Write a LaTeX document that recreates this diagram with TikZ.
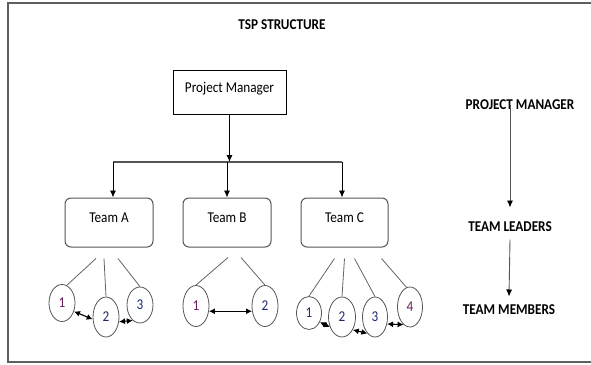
\documentclass[tikz,border=0pt]{standalone}
\usepackage{fontspec}
\setmainfont{Carlito}[FakeStretch=0.88]
\usetikzlibrary{shapes.geometric,arrows.meta,calc}
\definecolor{frameGray}{RGB}{95,95,95}
\definecolor{boxGray}{RGB}{85,85,85}
\definecolor{spokeGray}{RGB}{100,100,100}
\definecolor{numPurple}{RGB}{105,30,95}
\definecolor{numNavy}{RGB}{30,40,110}
\tikzset{
  heading/.style={font=\bfseries\fontsize{15}{18}\selectfont},
  pmbox/.style={draw=black, line width=0.9pt, minimum width=113pt, inner xsep=4pt, inner ysep=5pt,
    text height=17pt, text depth=17pt, font=\fontsize{15}{18}\selectfont},
  team/.style={draw=boxGray, line width=1pt, rounded corners=6pt, minimum width=88pt, inner ysep=5pt,
    text height=19pt, text depth=20pt, font=\fontsize{15}{18}\selectfont},
  mem/.style={ellipse, draw=boxGray, line width=0.8pt, inner sep=0pt, minimum width=26pt,
    font=\fontsize{15}{18}\selectfont},
  arr/.style={-{Latex[length=7pt,width=6pt]}, line width=0.9pt},
  level/.style={draw=boxGray, -{Latex[length=7pt,width=6pt,color=black]}, line width=0.9pt},
  pair/.style={{Latex[length=6pt,width=6pt]}-{Latex[length=6pt,width=6pt]}, line width=1.1pt},
  spoke/.style={draw=spokeGray, line width=0.8pt}
}
\begin{document}
\begin{tikzpicture}[x=1pt,y=1pt,yscale=-1,xscale=1]
\useasboundingbox (0,0) rectangle (591,364);

%Frame (right side runs off the picture)
\draw [frameGray, line width=1.6pt] (591,3) -- (8,3) -- (8,362) -- (591,362);

%Title
\node[heading] (title) at (282,25) {TSP STRUCTURE};

%Manager and teams
\node[pmbox] (pm) at (229.5,92) {Project Manager};
\node[team] (ta) at (109,222.5) {Team A};
\node[team] (tb) at (227,222.5) {Team B};
\node[team, minimum width=87pt] (tc) at (344.5,222.5) {Team C};

\coordinate (fork) at (228,162);
\draw[arr] (pm.south) -- (pm.south |- fork);
\draw[boxGray, line width=1.2pt] ($(ta.north |- fork)+(4,0)$) -- ($(tc.north |- fork)+(-2.5,0)$);
\draw[arr] ($(ta.north |- fork)+(4,0)$) -- ($(ta.north)+(4,0)$);
\draw[arr] (tb.north |- fork) -- (tb.north);
\draw[arr] ($(tc.north |- fork)+(-2.5,0)$) -- ($(tc.north)+(-2.5,0)$);

%Team A members
\node[mem, minimum height=37pt, text=numPurple] (a1) at (62,303) {1};
\node[mem, minimum height=40pt, text=numNavy] (a2) at (106,317) {2};
\node[mem, minimum height=36pt, text=numNavy] (a3) at (140,305) {3};
\draw[spoke] ($(ta.south)+(-13,11)$) -- (a1.75);
\draw[spoke] ($(ta.south)+(-5,11)$) -- (a2.north);
\draw[spoke] ($(ta.south)+(9,11)$) -- (a3.north);
\draw[pair] (a1.-35) -- (a2.190);
\draw[pair] (a2.-20) -- (a3.-115);

%Team B members
\node[mem, minimum height=41pt, text=numPurple] (b1) at (196,306) {1};
\node[mem, minimum height=41pt, text=numNavy] (b2) at (265,306) {2};
\draw[spoke] ($(tb.south)+(1,10)$) -- (b1.north);
\draw[spoke] ($(tb.south)+(14,10)$) -- (b2.north);
\draw[pair] (b1.-22) -- (b2.202);

%Team C members
\node[mem, minimum width=25pt, minimum height=33pt, text=numNavy] (c1) at (309,313) {1};
\node[mem, minimum width=27pt, minimum height=40pt, text=numNavy] (c2) at (342,317) {2};
\node[mem, minimum width=25pt, minimum height=40pt, text=numNavy] (c3) at (375,317) {3};
\node[mem, minimum width=25pt, minimum height=40pt, text=numPurple] (c4) at (410,307) {4};
\draw[spoke] ($(tc.south)+(-10,11)$) -- (c1.north);
\draw[spoke] ($(tc.south)+(0,11)$) -- (c2.north);
\draw[spoke] ($(tc.south)+(10,11)$) -- (c3.north);
\draw[spoke] ($(tc.south)+(37,11)$) -- (c4.100);
\draw[pair] (c1.-40) -- (c2.-140);
\draw[pair] (c2.-50) -- (c3.-115);
\draw[pair] (c3.-30) -- (c4.-110);

%Hierarchy on the right
\node[heading] (rpm) at (520,105) {PROJECT MANAGER};
\node[heading] (rtl) at (510,227) {TEAM LEADERS};
\node[heading] (rtm) at (509,310) {TEAM MEMBERS};
\draw[level] (rpm.center -| rtl.center) -- ($(rtl.north)+(0,-11)$);
\draw[level] ($(rtl.south)+(0,4)$) -- ($(rtm.north)+(0,-5)$);

\end{tikzpicture}
\end{document}
